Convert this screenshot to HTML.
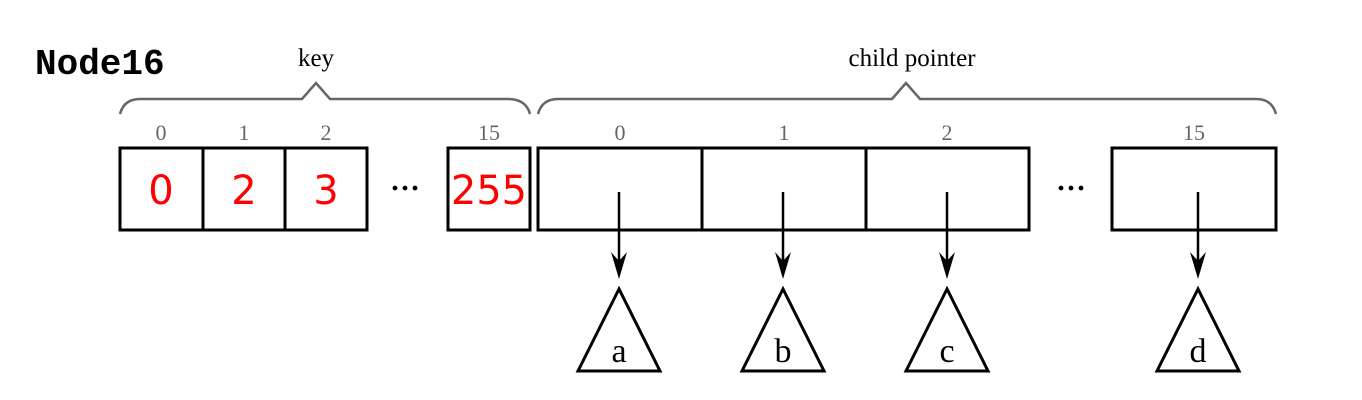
<!DOCTYPE html>
<html><head><meta charset="utf-8"><style>
html,body{margin:0;padding:0;background:#fff;}
svg{display:block;}
.serif{font-family:"Liberation Serif",serif;}
</style></head><body>
<svg width="1362" height="400" viewBox="0 0 1362 400">
<text x="35" y="74" font-family="Liberation Mono, monospace" font-weight="bold" font-size="36">Node16</text>

<g fill="none" stroke="#666" stroke-width="2.5">
<path d="M120,114 Q124,99 140,99 L302,99 L316,83 L330,99 L508,99 Q526,99 530,114"/>
</g>
<text class="serif" x="316" y="66" font-size="25" text-anchor="middle">key</text>

<g fill="none" stroke="#666" stroke-width="2.5">
<path d="M538,114 Q542,99 558,99 L892,99 L906,83 L920,99 L1256,99 Q1272,99 1276,114"/>
</g>
<text class="serif" x="912" y="66" font-size="25" text-anchor="middle">child pointer</text>

<g class="serif" font-size="22" fill="#666" text-anchor="middle">
<text x="161" y="140">0</text><text x="244" y="140">1</text><text x="326" y="140">2</text><text x="489" y="140">15</text>
<text x="620" y="140">0</text><text x="784" y="140">1</text><text x="947" y="140">2</text><text x="1194" y="140">15</text>
</g>

<g fill="none" stroke="#000" stroke-width="3">
<rect x="120" y="148" width="247" height="82"/>
<line x1="203" y1="148" x2="203" y2="230"/><line x1="285" y1="148" x2="285" y2="230"/>
<rect x="448" y="148" width="82" height="82"/>
</g>
<g font-family="DejaVu Sans, sans-serif" font-size="40" fill="#f00" text-anchor="middle">
<text x="161" y="204">0</text><text x="244" y="204">2</text><text x="326" y="204">3</text><text x="489" y="204" textLength="76" lengthAdjust="spacingAndGlyphs">255</text>
</g>
<text class="serif" x="405" y="198" font-size="30" font-weight="bold" text-anchor="middle">···</text>

<g fill="none" stroke="#000" stroke-width="3">
<rect x="538" y="148" width="491" height="82"/>
<line x1="702" y1="148" x2="702" y2="230"/><line x1="866" y1="148" x2="866" y2="230"/>
<rect x="1112" y="148" width="164" height="82"/>
</g>
<text class="serif" x="1071" y="198" font-size="30" font-weight="bold" text-anchor="middle">···</text>

<g stroke="#000" stroke-width="2.5">
<line x1="619" y1="192" x2="619" y2="268"/>
<line x1="783" y1="192" x2="783" y2="268"/>
<line x1="947" y1="192" x2="947" y2="268"/>
<line x1="1198" y1="192" x2="1198" y2="268"/>
</g>
<g fill="#000">
<path d="M619,279 L611,252 L619,261 L627,252 Z"/>
<path d="M783,279 L775,252 L783,261 L791,252 Z"/>
<path d="M947,279 L939,252 L947,261 L955,252 Z"/>
<path d="M1198,279 L1190,252 L1198,261 L1206,252 Z"/>
</g>

<g fill="none" stroke="#000" stroke-width="3">
<polygon points="619,289 578,371 660,371"/>
<polygon points="783,289 742,371 824,371"/>
<polygon points="947,289 906,371 988,371"/>
<polygon points="1198,289 1157,371 1239,371"/>
</g>
<g class="serif" font-size="34" text-anchor="middle">
<text x="619" y="362">a</text><text x="783" y="362">b</text><text x="947" y="362">c</text><text x="1198" y="362">d</text>
</g>
</svg>
</body></html>
